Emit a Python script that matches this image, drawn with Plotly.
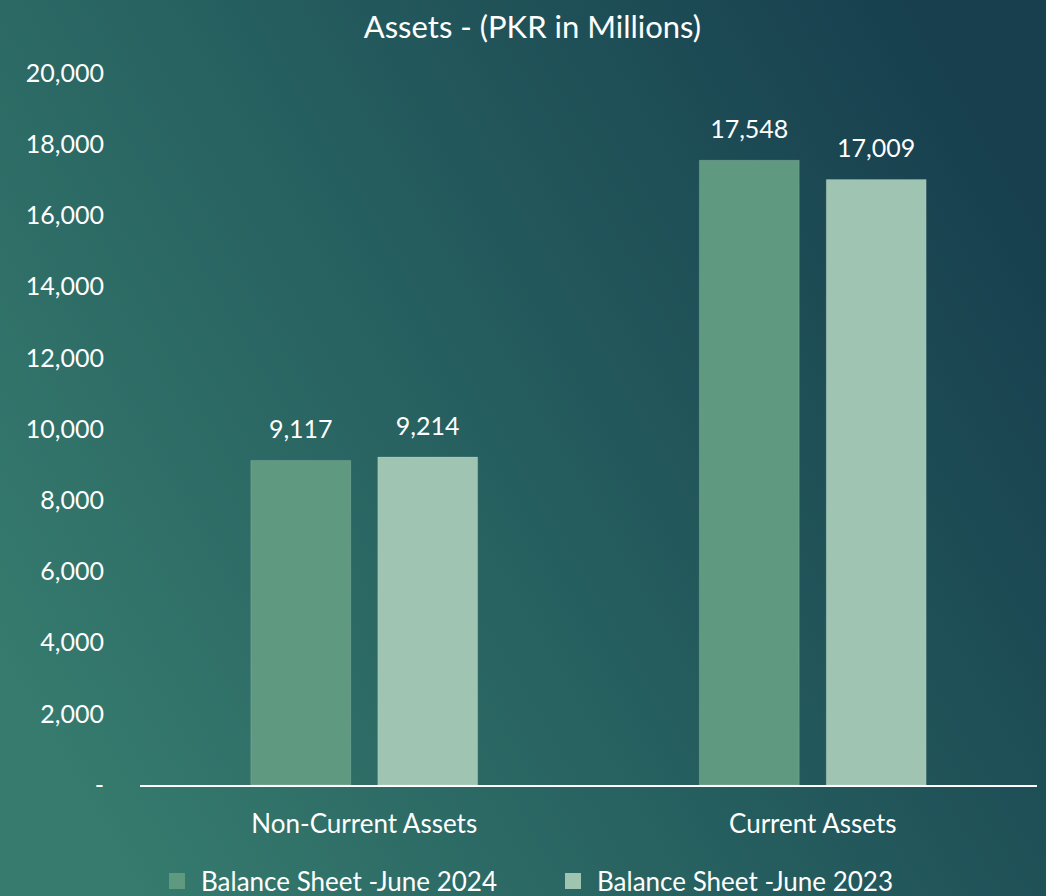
import base64
import plotly.graph_objects as go

categories = ["Non-Current Assets", "Current Assets"]
june_2024 = [9117, 17548]
june_2023 = [9214, 17009]
series_names = ["Balance Sheet -June 2024", "Balance Sheet -June 2023"]
tick_vals = [0, 2000, 4000, 6000, 8000, 10000, 12000, 14000, 16000, 18000, 20000]
tick_text = ["-", "2,000", "4,000", "6,000", "8,000", "10,000", "12,000",
             "14,000", "16,000", "18,000", "20,000"]

W, H = 1046, 896
ML, MR, MT, MB = 140, 9, 73, 111
FONT = "Lato"
colors = ["#5f9a80", "#9fc4b2"]
GAP = 0.434

# near-horizontal gradient background, as an svg data uri
svg = (
    '<svg xmlns="http://www.w3.org/2000/svg" width="1046" height="896" '
    'preserveAspectRatio="none" viewBox="0 0 1046 896">'
    '<defs><linearGradient id="g" x1="0" y1="0.75" x2="1" y2="0.25">'
    '<stop offset="0" stop-color="#367b6e"/>'
    '<stop offset="0.5" stop-color="#255d5e"/>'
    '<stop offset="1" stop-color="#173f4e"/>'
    '</linearGradient></defs>'
    '<rect width="1046" height="896" fill="url(#g)"/></svg>'
)
bg_uri = "data:image/svg+xml;base64," + base64.b64encode(svg.encode()).decode()

pw, ph = W - ML - MR, H - MT - MB

fig = go.Figure()
for i, (name, vals, col) in enumerate(zip(series_names, [june_2024, june_2023], colors)):
    fig.add_trace(go.Bar(
        x=categories, y=vals, name=name, showlegend=False, offsetgroup=str(i),
        marker=dict(color=col, line=dict(color="rgba(255,255,255,0.15)", width=1)),
        hoverinfo="skip",
    ))
    # value labels, grouped the same way as the bars
    fig.add_trace(go.Scatter(
        x=categories, y=vals, mode="markers+text", offsetgroup=str(i),
        text=[f"{v:,}" for v in vals], textposition="top center",
        textfont=dict(color="white", size=25, family=FONT),
        marker=dict(size=24, opacity=0), showlegend=False, cliponaxis=False,
        hoverinfo="skip",
    ))
    # legend-only entry with a bigger square swatch
    fig.add_trace(go.Scatter(
        x=[None], y=[None], mode="markers", name=name,
        marker=dict(symbol="square", size=16, color=col),
    ))

fig.update_layout(
    width=W, height=H,
    margin=dict(l=ML, r=MR, t=MT, b=MB, autoexpand=False),
    paper_bgcolor="#245652", plot_bgcolor="rgba(0,0,0,0)",
    font=dict(family=FONT, color="white", size=25),
    title=dict(text="Assets - (PKR in Millions)", x=0.509, xref="container",
               y=1 - 27 / H, yref="container", xanchor="center", yanchor="middle",
               font=dict(size=31, color="white", family=FONT)),
    barmode="group", bargap=GAP, bargroupgap=0.213,
    scattermode="group", scattergap=GAP,
    showlegend=True,
    legend=dict(orientation="h", x=(549 - ML) / pw, y=(H - MB - 881) / ph,
                xanchor="center", yanchor="middle",
                font=dict(size=26, color="white", family=FONT),
                itemwidth=38, entrywidth=343, bgcolor="rgba(0,0,0,0)"),
    images=[dict(source=bg_uri, xref="paper", yref="paper",
                 x=-ML / pw, y=1 + MT / ph, sizex=W / pw, sizey=H / ph,
                 xanchor="left", yanchor="top", sizing="stretch", layer="below")],
)
fig.update_xaxes(showline=True, linecolor="white", linewidth=2, showgrid=False,
                 ticks="", tickfont=dict(size=26, color="white"), ticklabelstandoff=15)
fig.update_yaxes(range=[0, 20000], tickvals=tick_vals, ticktext=tick_text,
                 showgrid=False, zeroline=False, showline=False, ticks="",
                 ticklabelstandoff=35, tickfont=dict(size=25, color="white"))

fig.write_html("out.html", config={"displayModeBar": False},
               post_script="document.body.style.margin='0';"
                           "document.body.style.background='#245652';")
